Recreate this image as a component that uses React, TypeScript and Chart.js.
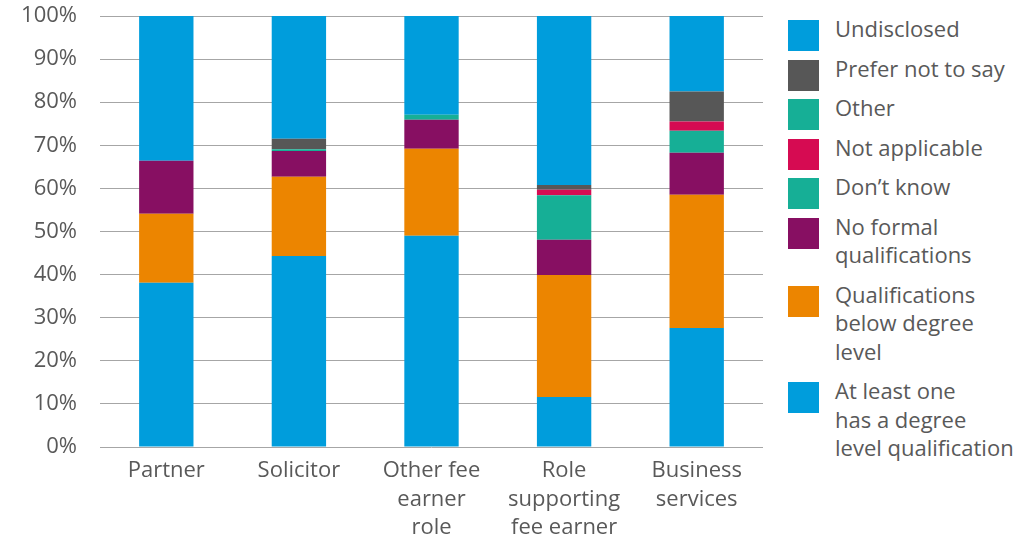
import React, { useEffect, useRef } from "react";
import { Chart, registerables } from "chart.js";

Chart.register(...registerables);

const categories: string[][] = [
  ["Partner"],
  ["Solicitor"],
  ["Other fee", "earner", "role"],
  ["Role", "supporting", "fee earner"],
  ["Business", "services"],
];

const degree = [38.1, 44.3, 49.0, 11.6, 27.6];
const belowDegree = [16.0, 18.4, 20.2, 28.3, 30.9];
const noFormal = [12.3, 6.0, 6.7, 8.2, 9.8];
const dontKnow = [0, 0.4, 1.2, 10.3, 5.1];
const notApplicable = [0, 0, 0, 1.3, 2.1];
const other = [0, 0, 0, 0, 0];
const preferNot = [0, 2.4, 0, 1.1, 7.0];
const undisclosed = [33.6, 28.5, 22.9, 39.2, 17.5];

const yTicks = [0, 10, 20, 30, 40, 50, 60, 70, 80, 90, 100];

const BLUE = "#009ddc";
const GREY = "#575757";
const TEAL = "#16af96";
const PINK = "#d60b52";
const PURPLE = "#870f62";
const ORANGE = "#ec8500";

const series = [
  { label: ["At least one", "has a degree", "level qualification"], data: degree, color: BLUE },
  { label: ["Qualifications", "below degree", "level"], data: belowDegree, color: ORANGE },
  { label: ["No formal", "qualifications"], data: noFormal, color: PURPLE },
  { label: ["Don\u2019t know"], data: dontKnow, color: TEAL },
  { label: ["Not applicable"], data: notApplicable, color: PINK },
  { label: ["Other"], data: other, color: TEAL },
  { label: ["Prefer not to say"], data: preferNot, color: GREY },
  { label: ["Undisclosed"], data: undisclosed, color: BLUE },
];

const FONT = "'Open Sans', 'Noto Sans', sans-serif";
const TEXT = "#595959";

export default function App() {
  const ref = useRef<HTMLCanvasElement | null>(null);

  useEffect(() => {
    document.body.style.margin = "0";
    if (!ref.current) return;
    const chart = new Chart(ref.current, {
      type: "bar",
      data: {
        labels: categories,
        datasets: series.map((s) => ({
          label: s.label.join(" "),
          data: s.data,
          backgroundColor: s.color,
          borderWidth: 0,
          barPercentage: 1,
          categoryPercentage: 0.41,
        })),
      },
      options: {
        animation: false,
        responsive: false,
        maintainAspectRatio: false,
        layout: { padding: { top: 0, left: 0, right: 7, bottom: 0 } },
        plugins: { legend: { display: false }, tooltip: { enabled: false } },
        scales: {
          x: {
            stacked: true,
            grid: { display: false },
            border: { display: false },
            ticks: {
              color: TEXT,
              font: { family: FONT, size: 22, lineHeight: 1.29 },
              padding: 2,
              maxRotation: 0,
              autoSkip: false,
            },
            afterFit: (scale: any) => {
              scale.height = 92;
              scale.paddingLeft = 0;
              scale.paddingRight = 0;
            },
          },
          y: {
            stacked: true,
            min: 0,
            max: 100,
            border: { display: false },
            grid: { color: "#a6a6a6", lineWidth: 1, drawTicks: false },
            afterBuildTicks: (scale: any) => {
              scale.ticks = yTicks.map((v) => ({ value: v }));
            },
            ticks: {
              color: TEXT,
              font: { family: FONT, size: 22 },
              padding: 23,
              callback: (v: any) => v + "%",
            },
            afterFit: (scale: any) => {
              scale.width = 100;
              scale.paddingTop = 16;
              scale.paddingBottom = 0;
            },
          },
        },
      },
    });
    return () => chart.destroy();
  }, []);

  const legendItems = [...series].reverse();

  return (
    <div style={{ position: "relative", width: 1034, height: 539 }}>
      <canvas ref={ref} width={770} height={539} style={{ position: "absolute", left: 0, top: 0 }} />
      <div
        style={{
          position: "absolute",
          left: 788,
          top: 14,
          display: "flex",
          flexDirection: "column",
          gap: 11.2,
          fontFamily: FONT,
          fontSize: 22,
          lineHeight: "28.4px",
          color: TEXT,
        }}
      >
        {legendItems.map((s, i) => (
          <div key={i} style={{ position: "relative", paddingLeft: 47 }}>
            <div
              style={{
                position: "absolute",
                left: 0,
                top: 6,
                width: 31,
                height: 31,
                background: s.color,
              }}
            />
            <div style={{ whiteSpace: "nowrap" }}>
              {s.label.map((l, j) => (
                <div key={j}>{l}</div>
              ))}
            </div>
          </div>
        ))}
      </div>
    </div>
  );
}
